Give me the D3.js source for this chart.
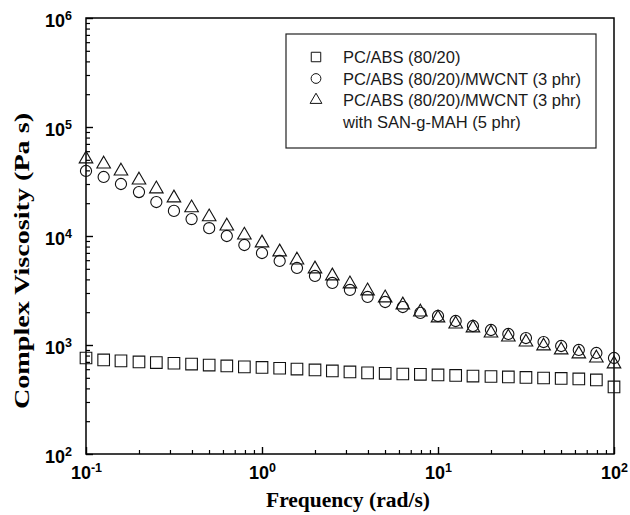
<!DOCTYPE html>
<html>
<head>
<meta charset="utf-8">
<script src="https://cdn.jsdelivr.net/npm/d3@7"></script>
<style>
  body { margin: 0; background: #fff; }
  .tick-label { font-family: "Liberation Sans", Arial, sans-serif; font-weight: bold; font-size: 18px; }
  .axis-title { font-family: "Liberation Serif", "Times New Roman", serif; font-weight: bold; }
  .legend-text { font-family: "Liberation Sans", Arial, sans-serif; font-size: 16.5px; fill: #1a1a1a; }
</style>
</head>
<body>
<svg id="chart"></svg>
<script>
// Frequency (rad/s), 10 points per decade
const frequency = [0.1, 0.126, 0.158, 0.2, 0.251, 0.316, 0.398, 0.501, 0.631, 0.794,
  1, 1.26, 1.58, 2, 2.51, 3.16, 3.98, 5.01, 6.31, 7.94,
  10, 12.6, 15.8, 20, 25.1, 31.6, 39.8, 50.1, 63.1, 79.4, 100];

// Complex viscosity (Pa s)
const pcAbs = [760, 730, 715, 700, 690, 680, 668, 655, 642, 630,
  622, 612, 602, 590, 578, 566, 555, 550, 542, 538,
  531, 526, 519, 514, 509, 504, 498, 493, 488, 478, 412];
const pcAbsCnt = [39500, 34800, 30000, 25300, 20500, 17000, 14300, 11800, 10000, 8270,
  6980, 5900, 5090, 4300, 3710, 3200, 2760, 2480, 2230, 1970,
  1845, 1660, 1494, 1373, 1262, 1159, 1065, 979, 900, 845, 760];
const pcAbsCntSan = [52000, 46700, 40300, 33300, 27600, 22800, 18500, 15300, 12600, 10400,
  8810, 7290, 6150, 5090, 4390, 3710, 3200, 2760, 2380, 2050,
  1807, 1591, 1463, 1316, 1209, 1088, 1000, 919, 845, 776, 684];

const seriesNames = ['PC/ABS (80/20)', 'PC/ABS (80/20)/MWCNT (3 phr)', 'PC/ABS (80/20)/MWCNT (3 phr)'];
const legendExtra = 'with SAN-g-MAH (5 phr)';

const xMajor = [0.1, 1, 10, 100];
const yMajor = [100, 1000, 10000, 100000, 1000000];

const margin = {top: 18, right: 16, bottom: 61, left: 86};
const width = 630 - margin.left - margin.right;
const height = 515 - margin.top - margin.bottom;

const svg = d3.select('#chart').attr('width', 630).attr('height', 515);
const chart = svg.append('g').attr('transform', `translate(${margin.left},${margin.top})`);

const xScale = d3.scaleLog().domain([0.1, 100]).range([0, width]);
const yScale = d3.scaleLog().domain([100, 1e6]).range([height, 0]);

function minorTicks(majors) {
  const out = [];
  for (let i = 0; i < majors.length - 1; i++) {
    for (let k = 2; k <= 9; k++) out.push(majors[i] * k);
  }
  return out;
}

function supLabel(sel) {
  sel.selectAll('.tick text').each(function(d) {
    const t = d3.select(this).attr('class', 'tick-label').attr('fill', '#000');
    t.text('');
    t.append('tspan').text('10');
    t.append('tspan').attr('dy', '-0.55em').attr('font-size', '12.5px').text(Math.round(Math.log10(d)));
  });
}

// minor ticks
chart.append('g')
    .attr('transform', `translate(0,${height})`)
    .call(d3.axisBottom(xScale).tickValues(minorTicks(xMajor)).tickFormat('').tickSize(-4).tickSizeOuter(0))
    .call(g => g.select('.domain').remove())
    .selectAll('line').attr('stroke-width', 1.2);
chart.append('g')
    .call(d3.axisLeft(yScale).tickValues(minorTicks(yMajor)).tickFormat('').tickSize(-4).tickSizeOuter(0))
    .call(g => g.select('.domain').remove())
    .selectAll('line').attr('stroke-width', 1.2);

// major ticks
chart.append('g')
    .attr('transform', `translate(0,${height})`)
    .call(d3.axisBottom(xScale).tickValues(xMajor).tickSize(-7).tickPadding(12).tickSizeOuter(0))
    .call(g => g.select('.domain').remove())
    .call(supLabel)
    .selectAll('line').attr('stroke-width', 1.4);
chart.append('g')
    .call(d3.axisLeft(yScale).tickValues(yMajor).tickSize(-7).tickPadding(14).tickSizeOuter(0))
    .call(g => g.select('.domain').remove())
    .call(supLabel)
    .call(g => g.selectAll('.tick text').attr('dy', '0.45em'))
    .selectAll('line').attr('stroke-width', 1.4);

// frame
chart.append('rect')
    .attr('width', width).attr('height', height)
    .attr('fill', 'none').attr('stroke', '#000').attr('stroke-width', 1.5);

// data
const symSquare = d3.symbol().type(d3.symbolSquare).size(135);
const symCircle = d3.symbol().type(d3.symbolCircle).size(98);
const symTriangle = d3.symbol().type(d3.symbolTriangle).size(80);

const series = [
  {values: pcAbs, sym: symSquare, dy: 0},
  {values: pcAbsCnt, sym: symCircle, dy: 0},
  {values: pcAbsCntSan, sym: symTriangle, dy: 1}
];

series.forEach(s => {
  chart.append('g').selectAll('path')
      .data(s.values)
      .join('path')
      .attr('d', s.sym())
      .attr('transform', (d, i) => `translate(${xScale(frequency[i])},${yScale(d) + s.dy})`)
      .attr('fill', 'none')
      .attr('stroke', '#111')
      .attr('stroke-width', 1.1);
});

// legend
const legend = chart.append('g').attr('transform', 'translate(200,16)');
legend.append('rect')
    .attr('width', 310).attr('height', 114)
    .attr('fill', '#fff').attr('stroke', '#222').attr('stroke-width', 1.2);
const legSyms = [
  d3.symbol().type(d3.symbolSquare).size(90),
  d3.symbol().type(d3.symbolCircle).size(75),
  d3.symbol().type(d3.symbolTriangle).size(60)
];
seriesNames.forEach((name, i) => {
  const y = 23 + i * 21.5;
  legend.append('path')
      .attr('d', legSyms[i]())
      .attr('transform', `translate(30,${y})`)
      .attr('fill', 'none').attr('stroke', '#111').attr('stroke-width', 1);
  legend.append('text')
      .attr('class', 'legend-text')
      .attr('x', 57).attr('y', y + 6)
      .text(name);
});
legend.append('text')
    .attr('class', 'legend-text')
    .attr('x', 57).attr('y', 23 + 3 * 21.5 + 6)
    .text(legendExtra);

// axis titles
chart.append('text')
    .attr('class', 'axis-title')
    .attr('x', width / 2 - 2)
    .attr('y', height + 53)
    .style('font-size', '20px')
    .style('text-anchor', 'middle')
    .attr('textLength', 164)
    .attr('lengthAdjust', 'spacingAndGlyphs')
    .text('Frequency (rad/s)');

chart.append('text')
    .attr('class', 'axis-title')
    .attr('transform', `translate(${-57},${261 - margin.top}) rotate(-90)`)
    .style('font-size', '22px')
    .style('text-anchor', 'middle')
    .attr('textLength', 296)
    .attr('lengthAdjust', 'spacingAndGlyphs')
    .text('Complex Viscosity (Pa s)');
</script>
</body>
</html>
